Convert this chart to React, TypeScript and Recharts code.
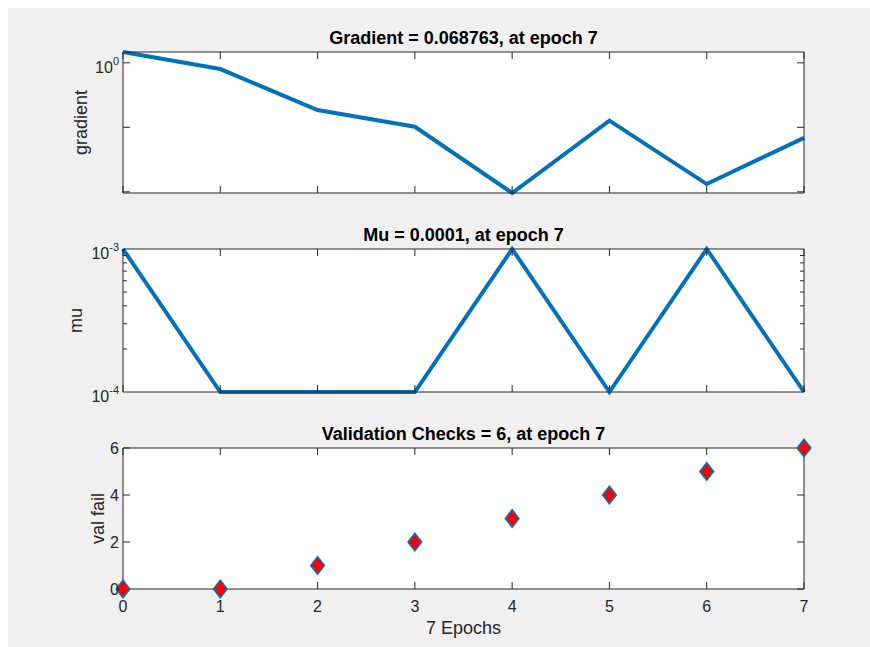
import React from 'react';
import { LineChart, Line, XAxis, YAxis, CartesianGrid } from 'recharts';

// ---------- data ----------
const epochs = [0, 1, 2, 3, 4, 5, 6, 7];
const gradientValues = [1.47, 0.8, 0.185, 0.102, 0.0096, 0.127, 0.0132, 0.068763];
const muValues = [0.001, 0.0001, 0.0001, 0.0001, 0.001, 0.0001, 0.001, 0.0001];
const valFailValues = [0, 0, 1, 2, 3, 4, 5, 6];

const xTicks = [0, 1, 2, 3, 4, 5, 6, 7];
const gradientTicks = [0.01, 0.1, 1];
const gradientLabelTicks = [1];
const muMinorTicks = [0.0002, 0.0003, 0.0004, 0.0005, 0.0006, 0.0007, 0.0008, 0.0009];
const muLabelTicks = [0.0001, 0.001];
const valTicks = [0, 2, 4, 6];

const gradientTitle = 'Gradient = 0.068763, at epoch 7';
const muTitle = 'Mu = 0.0001, at epoch 7';
const valTitle = 'Validation Checks = 6, at epoch 7';
const gradientLabel = 'gradient';
const muLabel = 'mu';
const valLabel = 'val fail';
const xLabel = '7 Epochs';

const rows = epochs.map((e, i) => ({
  epoch: e,
  gradient: gradientValues[i],
  mu: muValues[i],
  valFail: valFailValues[i],
}));

// ---------- styles ----------
const W = 862;
const AXIS = '#262626';
const BLUE = '#0072BD';
const FONT = '"Liberation Sans", Arial, Helvetica, sans-serif';
const TITLE_X = 455.5;

const EmptyTick = (props: any) => <g key={`e${props.index}`} />;

const PowerTick = (props: any) => {
  const { x, y, payload } = props;
  const exp = Math.round(Math.log10(payload.value));
  return (
    <text x={x} y={y + 10} textAnchor="end" fill={AXIS} fontSize={16} fontFamily={FONT}>
      10
      <tspan dy={-8} fontSize={11}>
        {String(exp)}
      </tspan>
    </text>
  );
};

const LinTick = (props: any) => {
  const { x, y, payload } = props;
  return (
    <text x={x} y={y + 6} textAnchor="end" fill={AXIS} fontSize={16} fontFamily={FONT}>
      {payload.value}
    </text>
  );
};

const XTickLabel = (props: any) => {
  const { x, y, payload } = props;
  return (
    <text x={x} y={y + 23} textAnchor="middle" fill={AXIS} fontSize={16} fontFamily={FONT}>
      {payload.value}
    </text>
  );
};

const Diamond = (props: any) => {
  const { cx, cy, index } = props;
  if (cx == null || cy == null) return <g key={`d${index}`} />;
  const hw = 6.8;
  const hh = 8.8;
  return (
    <polygon
      key={`d${index}`}
      points={`${cx},${cy - hh} ${cx + hw},${cy} ${cx},${cy + hh} ${cx - hw},${cy}`}
      fill="#ff0000"
      stroke={BLUE}
      strokeWidth={1.6}
    />
  );
};

function frameAxes(
  yScale: any,
  yDomain: number[],
  yTicks: number[],
  yTickSize: number,
) {
  const common = {
    stroke: AXIS,
    axisLine: { stroke: AXIS, strokeWidth: 1 },
    tickLine: { stroke: AXIS, strokeWidth: 1 },
    tick: EmptyTick,
    mirror: true,
    interval: 0 as const,
  };
  return [
    <XAxis
      key="xb"
      xAxisId="x"
      dataKey="epoch"
      type="number"
      domain={[0, 7]}
      ticks={xTicks}
      orientation="bottom"
      tickSize={7}
      {...common}
    />,
    <XAxis
      key="xt"
      xAxisId="xt"
      type="number"
      domain={[0, 7]}
      allowDataOverflow
      ticks={xTicks}
      orientation="top"
      tickSize={7}
      {...common}
    />,
    <YAxis
      key="yl"
      yAxisId="y"
      type="number"
      scale={yScale}
      domain={yDomain}
      ticks={yTicks}
      orientation="left"
      tickSize={yTickSize}
      {...common}
    />,
    <YAxis
      key="yr"
      yAxisId="yr"
      type="number"
      scale={yScale}
      domain={yDomain}
      allowDataOverflow
      ticks={yTicks}
      orientation="right"
      tickSize={yTickSize}
      {...common}
    />,
  ];
}

function labelAxis(yScale: any, yDomain: number[], ticks: number[], tickEl: any) {
  return (
    <YAxis
      key="ylab"
      yAxisId="ylab"
      type="number"
      scale={yScale}
      domain={yDomain}
      allowDataOverflow
      ticks={ticks}
      interval={0}
      orientation="left"
      width={50}
      axisLine={false}
      tickLine={false}
      tickSize={0}
      tickMargin={4}
      tick={tickEl}
    />
  );
}

function yLabelText(text: string, x: number, cy: number) {
  return (
    <text
      key="ylabel"
      x={x}
      y={cy}
      transform={`rotate(-90 ${x} ${cy})`}
      textAnchor="middle"
      fill={AXIS}
      fontSize={18}
      fontFamily={FONT}
    >
      {text}
    </text>
  );
}

function titleText(text: string, y: number) {
  return (
    <text
      key="title"
      x={TITLE_X}
      y={y}
      textAnchor="middle"
      fill="#000"
      fontWeight="bold"
      fontSize={18}
      fontFamily={FONT}
    >
      {text}
    </text>
  );
}

const gradDomain = [0.0096, 1.47];
const muDomain = [0.0001, 0.001];
const valDomain = [0, 6];

export default function App() {
  return (
    <>
      <style>{'html,body{overflow:hidden;}'}</style>
      <div
        style={{
          position: 'absolute',
          left: 8,
          top: 8,
          width: 900,
          height: 700,
          background: '#f0f0f0',
        }}
      >
        {/* Gradient panel */}
        <div style={{ position: 'absolute', left: 0, top: 0 }}>
          <LineChart width={W} height={210} data={rows} margin={{ top: 44, right: 66, bottom: 25, left: 65 }}>
            <CartesianGrid xAxisId="x" yAxisId="y" horizontal={false} vertical={false} fill="#ffffff" />
            {frameAxes('log', gradDomain, gradientTicks, 7)}
            {labelAxis('log', gradDomain, gradientLabelTicks, <PowerTick />)}
            <Line
              xAxisId="x"
              yAxisId="y"
              dataKey="gradient"
              stroke={BLUE}
              strokeWidth={4}
              dot={false}
              activeDot={false}
              isAnimationActive={false}
            />
            {titleText(gradientTitle, 36)}
            {yLabelText(gradientLabel, 79, 114.5)}
          </LineChart>
        </div>

        {/* Mu panel */}
        <div style={{ position: 'absolute', left: 0, top: 210 }}>
          <LineChart width={W} height={200} data={rows} margin={{ top: 31, right: 66, bottom: 26, left: 65 }}>
            <CartesianGrid xAxisId="x" yAxisId="y" horizontal={false} vertical={false} fill="#ffffff" />
            {frameAxes('log', muDomain, muMinorTicks, 4)}
            {labelAxis('log', muDomain, muLabelTicks, <PowerTick />)}
            <Line
              xAxisId="x"
              yAxisId="y"
              dataKey="mu"
              stroke={BLUE}
              strokeWidth={4}
              dot={false}
              activeDot={false}
              isAnimationActive={false}
            />
            {titleText(muTitle, 23)}
            {yLabelText(muLabel, 74, 102.5)}
          </LineChart>
        </div>

        {/* Validation panel */}
        <div style={{ position: 'absolute', left: 0, top: 410 }}>
          <LineChart width={W} height={229} data={rows} margin={{ top: 30, right: 66, bottom: 33, left: 65 }}>
            <CartesianGrid xAxisId="x" yAxisId="y" horizontal={false} vertical={false} fill="#ffffff" />
            {frameAxes('linear', valDomain, valTicks, 7)}
            {labelAxis('linear', valDomain, valTicks, <LinTick />)}
            <XAxis
              key="xlab"
              xAxisId="xlab"
              type="number"
              domain={[0, 7]}
              allowDataOverflow
              ticks={xTicks}
              interval={0}
              orientation="bottom"
              height={25}
              axisLine={false}
              tickLine={false}
              tickSize={0}
              tickMargin={0}
              tick={<XTickLabel />}
            />
            <Line
              xAxisId="x"
              yAxisId="y"
              dataKey="valFail"
              stroke="none"
              dot={(p: any) => <Diamond {...p} key={`dm${p.index}`} />}
              activeDot={false}
              isAnimationActive={false}
            />
            {titleText(valTitle, 22)}
            {yLabelText(valLabel, 96, 100.5)}
            <text
              key="xlabel"
              x={TITLE_X}
              y={216}
              textAnchor="middle"
              fill={AXIS}
              fontSize={18}
              fontFamily={FONT}
            >
              {xLabel}
            </text>
          </LineChart>
        </div>
      </div>
    </>
  );
}
